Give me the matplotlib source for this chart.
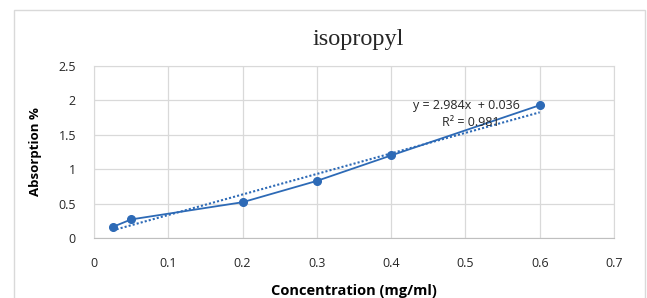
import matplotlib.pyplot as plt
from matplotlib.patches import Rectangle

# data
conc = [0.025, 0.05, 0.2, 0.3, 0.4, 0.6]
absorb = [0.16, 0.27, 0.52, 0.83, 1.20, 1.93]
slope = 2.984
intercept = 0.036
r2 = 0.981

x_ticks = [0, 0.1, 0.2, 0.3, 0.4, 0.5, 0.6, 0.7]
y_ticks = [0, 0.5, 1, 1.5, 2, 2.5]

blue = '#2d6ab6'
plt.rcParams['font.family'] = ['Open Sans', 'DejaVu Sans']

fig = plt.figure(figsize=(6.47, 2.98), dpi=100)
fig.patches.append(Rectangle((14 / 647, -0.01), 631 / 647, 1 - 10 / 298 + 0.01, transform=fig.transFigure,
                             fill=False, edgecolor='#d9d9d9', linewidth=1.0))
ax = fig.add_axes([94 / 647, 1 - 238 / 298, 520 / 647, 172 / 298])

ax.plot(conc, absorb, color=blue, marker='o', markersize=5.5, linewidth=1.3, zorder=3)
trend_x = [conc[0], conc[-1]]
trend_y = [slope * v + intercept for v in trend_x]
ax.plot(trend_x, trend_y, color=blue, linestyle=(0, (1, 1)), linewidth=1.5, zorder=2)

ax.set_xlim(0, 0.7)
ax.set_ylim(0, 2.5)
ax.set_xticks(x_ticks)
ax.set_xticklabels(['0', '0.1', '0.2', '0.3', '0.4', '0.5', '0.6', '0.7'])
ax.set_yticks(y_ticks)
ax.set_yticklabels(['0', '0.5', '1', '1.5', '2', '2.5'])
ax.grid(True, color='#d9d9d9', linewidth=0.9)
ax.set_axisbelow(True)
for s in ax.spines.values():
    s.set_color('#d9d9d9')
ax.spines['bottom'].set_color('#bfbfbf')
ax.tick_params(length=0, labelsize=9, colors='#262626')
ax.tick_params(axis='x', pad=14)
ax.tick_params(axis='y', pad=13)

ax.text(0.502, 1.925, f'y = {slope}x  + {intercept}', fontsize=9, ha='center', va='center', color='#262626')
ax.text(0.507, 1.675, f'R² = {r2}', fontsize=9, ha='center', va='center', color='#262626')

fig.text(358 / 647, 1 - 40 / 298, 'isopropyl', family='Liberation Serif', fontsize=17.5,
         ha='center', va='center', color='#262626')
ax.set_xlabel('Concentration (mg/ml)', fontsize=10.5, fontweight='bold', labelpad=10)
ax.set_ylabel('Absorption %', fontsize=9.5, fontweight='bold', labelpad=12)

fig.savefig('out.png', dpi=100)
